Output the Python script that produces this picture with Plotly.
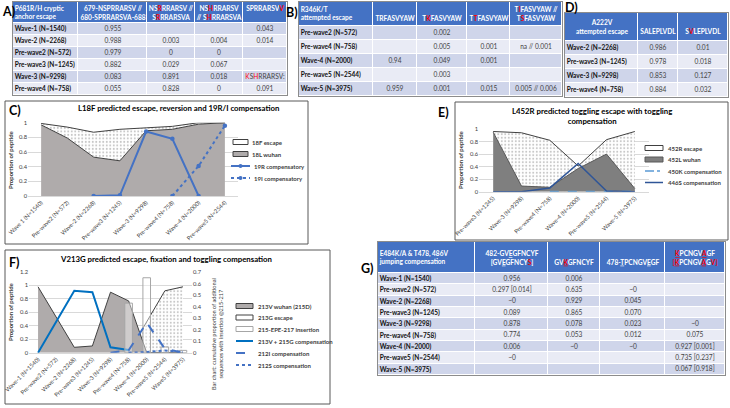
import plotly.graph_objects as go

W, H = 730, 408
FONT = "Lato, 'Noto Sans', 'DejaVu Sans', sans-serif"
RED = "#FF0000"


def red(s):
    return f"<span style='color:{RED}'>{s}</span>"


def redu(s):
    return f"<span style='color:{RED}'><u>{s}</u></span>"


# ---------------- Table A data ----------------
a_title = "P681R/H cryptic<br>anchor escape"
a_headers = ["679-NSPRRARSV //<br>680-SPRRARSVA-688",
             "NS" + red("R") + "RRARSV //<br>S" + red("R") + "RRARSVA",
             "NS" + red("H") + "RRARSV<br>// S" + red("H") + "RRARSVA",
             "SPRRARSV" + red("V") + "<br> "]
a_rows = ["Wave-1 (N=1540)", "Wave-2 (N=2268)", "Pre-wave2 (N=572)",
          "Pre-wave3 (N=1245)", "Wave-3 (N=9298)", "Pre-wave4 (N=758)"]
a_679 = ["0.955", "0.988", "0.979", "0.882", "0.083", "0.055"]
a_nsr = ["", "0.003", "0", "0.029", "0.891", "0.828"]
a_nsh = ["", "0.004", "0", "0.067", "0.018", "0"]
a_spv = ["0.043", "0.014", "", "", red("K") + "S" + red("H") + "RRARSV:", "0.091"]

# ---------------- Table B data ----------------
b_title = "R346K/T<br>attempted escape"
b_headers = ["<br>TRFASVYAW", "<br>T" + red("K") + "FASVYAW", "<br>T" + red("T") + "FASVYAW",
             "T" + red("I") + "FASVYAW //<br>T" + red("S") + "FASVYAW"]
b_rows = ["Pre-wave2 (N=572)", "Pre-wave4 (N=758)", "Wave-4 (N=2000)",
          "Pre-wave5 (N=2544)", "Wave-5 (N=3975)"]
b_trf = ["", "", "0.94", "", "0.959"]
b_tkf = ["0.002", "0.005", "0.049", "0.003", "0.001"]
b_ttf = ["", "0.001", "0.001", "", "0.015"]
b_tif = ["", "na // 0.001", "", "", "0.005 // 0.006"]

# ---------------- Table D data ----------------
d_title = "A222V<br>attempted escape"
d_headers = ["<br>SALEPLVDL", "<br>S" + red("V") + "LEPLVDL"]
d_rows = ["Wave-2 (N=2268)", "Pre-wave3 (N=1245)", "Wave-3 (N=9298)", "Pre-wave4 (N=758)"]
d_sale = ["0.986", "0.978", "0.853", "0.884"]
d_svle = ["0.01", "0.018", "0.127", "0.032"]

# ---------------- Table G data ----------------
g_title = "E484K/A &amp; T478, 486V<br>jumping compensation"
g_headers = ["482-GV<u>E</u>GFNCYF<br>[GV<u>E</u>GFNCY" + red("S") + "]",
             "<br>GV" + redu("K") + "GFNCYF",
             "<br>478-<u>T</u>PCNGV<u>E</u>GF",
             redu("K") + "PCNGV" + redu("A") + "GF<br>" + red("[") + redu("K") + "PCNGV" + redu("A") + "G" + red("V]")]
g_rows = ["Wave-1 (N=1540)", "Pre-wave2 (N=572)", "Wave-2 (N=2268)", "Pre-wave3 (N=1245)",
          "Wave-3 (N=9298)", "Pre-wave4 (N=758)", "Wave-4 (N=2000)", "Pre-wave5 (N=2544)",
          "Wave-5 (N=3975)"]
g_482 = ["0.956", "0.297 [0.014]", "~0", "0.089", "0.878", "0.774", "0.006", "~0", ""]
g_gvk = ["0.006", "0.635", "0.929", "0.865", "0.078", "0.053", "~0", "", ""]
g_478 = ["", "~0", "0.045", "0.070", "0.023", "0.012", "~0", "", ""]
g_kpc = ["", "", "", "", "~0", "0.075", "0.927 [0.001]", "0.735 [0.237]", "0.067 [0.918]"]

# ---------------- Chart C data ----------------
c_cats = ["Wave 1 (N=1540)", "Pre-wave2 (N=572)", "Wave-2 (N=2268)", "Pre-wave3 (N=1245)",
          "Wave-3 (N=9298)", "Pre-wave4 (N=758)", "Wave-4 (N=2000)", "Pre-wave5 (N=2544)"]
c_18L = [0.97, 0.79, 0.53, 0.48, 0.89, 0.91, 0.98, 1.0]
c_18F = [0.02, 0.15, 0.34, 0.43, 0.04, 0.04, 0.02, 0.0]
c_19R = [None, None, 0.0, 0.01, 0.88, 0.78, 0.0, None]
c_19I = [None, None, None, None, None, 0.0, 0.41, 0.96]

# ---------------- Chart E data ----------------
e_cats = ["Pre-wave3 (N=1245)", "Wave-3 (N=9298)", "Pre-wave4 (N=758)", "Wave-4 (N=2000)",
          "Pre-wave5 (N=2544)", "Wave-5 (N=3975)"]
e_452R = [0.96, 0.94, 0.82, 0.41, 0.83, 0.96]
e_452L = [0.95, 0.09, 0.07, 0.37, 0.60, 0.05]
e_450K = [None, None, 0.005, 0.005, 0.005, 0.005]
e_446S = [0.0, 0.0, 0.06, 0.45, 0.01, 0.0]

# ---------------- Chart F data ----------------
f_cats = ["Wave-1 (N=1540)", "Pre-wave2 (N=572)", "Wave-2 (N=2268)", "Pre-wave3 (N=1245)",
          "Wave-3 (N=9298)", "Pre-wave4 (N=758)", "Wave-4 (N=2000)", "Pre-wave5 (N=2544)",
          "Wave5 (N=3975)"]
f_213V = [0.98, 0.52, 0.08, 0.10, 0.90, 0.77, 0.0, 0.0, 0.0]
f_213G = [None, None, None, None, None, 0.0, 0.45, 0.92, 0.98]
f_ins = [None, None, None, None, None, 0.43, 0.65, 0.05, 0.02]          # right axis
f_213V215G = [0.0, 0.47, 0.92, 0.90, 0.08, 0.04, None, None, None]
f_212I = [None, None, None, None, 0.0, 0.02, 0.26, 0.035, 0.0]           # right axis
f_212S = [None, None, None, None, None, 0.0, 0.005, 0.02, 0.005]         # right axis


def X(px):
    return px / W


def Y(py):
    return 1 - py / H


fig = go.Figure()
layout_axes = {}
shapes = []
annotations = []

# ================= tables as heatmaps =================
BAND = [[0, "#4472C4"], [0.5, "#CFD5EA"], [1, "#E9EBF5"]]


def add_table(xname, yname, x0, y0, colw, header_h, row_h, title, headers, rows, columns,
              title_in_cell=False):
    ex = [0]
    for w in colw:
        ex.append(ex[-1] + w)
    n = len(rows)
    ey = [0, header_h] + [header_h + row_h * (i + 1) for i in range(n)]
    z = [[0] * len(colw)] + [[1 if i % 2 == 0 else 2] * len(colw) for i in range(n)]
    head = [("<b>" + title + "</b>") if title_in_cell else ""] + ["<b>" + h + "</b>" for h in headers]
    text = [head] + [[""] + [col[i] for col in columns] for i in range(n)]
    fig.add_trace(go.Heatmap(
        x=ex, y=ey, z=z, text=text, texttemplate="%{text}",
        textfont=dict(size=6.6, family=FONT),
        colorscale=BAND, zmin=0, zmax=2, showscale=False, xgap=1, ygap=1,
        hoverinfo="skip", xaxis=xname, yaxis=yname))
    tw, th = ex[-1], ey[-1]
    centers = [(ey[i] + ey[i + 1]) / 2 for i in range(n + 1)]
    ticktext = [("" if title_in_cell else
                 "<span style='color:white'>" + title + "</span>")] + rows
    xk = "xaxis" + xname[1:]
    yk = "yaxis" + yname[1:]
    layout_axes[xk] = dict(domain=[X(x0), X(x0 + tw)], range=[0, tw], anchor=yname,
                           showgrid=False, zeroline=False, showticklabels=False, ticks="",
                           showline=True, mirror=True, linecolor="#8c8c8c", linewidth=1,
                           fixedrange=True)
    layout_axes[yk] = dict(domain=[Y(y0 + th), Y(y0)], range=[th, 0], anchor=xname,
                           showgrid=False, zeroline=False, ticks="",
                           tickmode="array", tickvals=centers, ticktext=ticktext,
                           ticklabelposition="inside",
                           tickfont=dict(size=6.5, family=FONT, color="#111", weight="bold"),
                           showline=True, mirror=True, linecolor="#8c8c8c", linewidth=1,
                           fixedrange=True)


add_table("x4", "y5", 13, 2, [65, 69, 48, 48, 44], 21, 12, a_title, a_headers, a_rows,
          [a_679, a_nsr, a_nsh, a_spv])
add_table("x5", "y6", 299, 2, [74, 44, 50, 43, 52], 24, 14, b_title, b_headers, b_rows,
          [b_trf, b_tkf, b_ttf, b_tif])
add_table("x6", "y7", 565, 13, [73, 40, 50], 28, 14, d_title, d_headers, d_rows,
          [d_sale, d_svle], title_in_cell=True)
add_table("x7", "y8", 378, 242, [97, 73, 52, 65, 60], 31, 11.33, g_title, g_headers, g_rows,
          [g_482, g_gvk, g_478, g_kpc])

# ================= chart C =================
DOTS = dict(shape=".", fgcolor="#8c8c8c", bgcolor="white", size=3.5, solidity=0.25)
fig.add_trace(go.Scatter(x=c_cats, y=c_18L, stackgroup="c", mode="lines",
                         line=dict(color="#404040", width=1), fillcolor="#AFABAB",
                         xaxis="x", yaxis="y", hoverinfo="skip"))
fig.add_trace(go.Scatter(x=c_cats, y=c_18F, stackgroup="c", mode="lines",
                         line=dict(color="#404040", width=1), fillcolor="white",
                         fillpattern=DOTS, xaxis="x", yaxis="y", hoverinfo="skip"))
fig.add_trace(go.Scatter(x=c_cats, y=c_19R, mode="lines+markers",
                         line=dict(color="#4472C4", width=2), marker=dict(size=4.5, color="#4472C4"),
                         xaxis="x", yaxis="y", hoverinfo="skip"))
fig.add_trace(go.Scatter(x=c_cats, y=c_19I, mode="lines+markers",
                         line=dict(color="#4472C4", width=2, dash="dot"),
                         marker=dict(size=4.5, color="#4472C4"),
                         xaxis="x", yaxis="y", hoverinfo="skip"))

# ================= chart E =================
fig.add_trace(go.Scatter(x=e_cats, y=e_452R, mode="lines", fill="tozeroy",
                         line=dict(color="#404040", width=1), fillcolor="white", fillpattern=DOTS,
                         xaxis="x2", yaxis="y2", hoverinfo="skip"))
fig.add_trace(go.Scatter(x=e_cats, y=e_452L, mode="lines", fill="tozeroy",
                         line=dict(color="#595959", width=1), fillcolor="#7F7F7F",
                         xaxis="x2", yaxis="y2", hoverinfo="skip"))
fig.add_trace(go.Scatter(x=e_cats, y=e_450K, mode="lines",
                         line=dict(color="#5B9BD5", width=1.5, dash="dash"),
                         xaxis="x2", yaxis="y2", hoverinfo="skip"))
fig.add_trace(go.Scatter(x=e_cats, y=e_446S, mode="lines",
                         line=dict(color="#2F5597", width=1.5),
                         xaxis="x2", yaxis="y2", hoverinfo="skip"))

# ================= chart F =================
fig.add_trace(go.Scatter(x=f_cats, y=f_213G, mode="lines", fill="tozeroy",
                         line=dict(color="#404040", width=1), fillcolor="white", fillpattern=DOTS,
                         xaxis="x3", yaxis="y3", hoverinfo="skip"))
fig.add_trace(go.Scatter(x=f_cats, y=f_213V, mode="lines", fill="tozeroy",
                         line=dict(color="#404040", width=1), fillcolor="#AFABAB",
                         xaxis="x3", yaxis="y3", hoverinfo="skip"))
fig.add_trace(go.Scatter(x=f_cats, y=f_213V215G, mode="lines",
                         line=dict(color="#0070C0", width=2),
                         xaxis="x3", yaxis="y3", hoverinfo="skip"))
fig.add_trace(go.Bar(x=f_cats, y=f_ins, width=0.42,
                     marker=dict(color="rgba(255,255,255,0.4)", line=dict(color="#A6A6A6", width=1)),
                     xaxis="x3", yaxis="y4", hoverinfo="skip"))
fig.add_trace(go.Scatter(x=f_cats, y=f_212I, mode="lines",
                         line=dict(color="#4472C4", width=2, dash="dash"),
                         xaxis="x3", yaxis="y4", hoverinfo="skip"))
fig.add_trace(go.Scatter(x=f_cats, y=f_212S, mode="lines",
                         line=dict(color="#4472C4", width=2, dash="dot"),
                         xaxis="x3", yaxis="y4", hoverinfo="skip"))

TICKF = dict(size=5.8, family=FONT, color="#404040")
GRID = "#D9D9D9"


def xcat(dom, yname, n):
    return dict(domain=dom, anchor=yname, type="category", range=[-0.5, n - 0.5],
                tickangle=-45, tickfont=TICKF, showline=True, linecolor=GRID,
                showgrid=False, ticks="", automargin=False, fixedrange=True)


def yval(dom, xname, rng, dt):
    return dict(domain=dom, anchor=xname, range=rng, dtick=dt, tickfont=TICKF,
                gridcolor=GRID, gridwidth=0.8, zeroline=False, showline=False, ticks="",
                automargin=False, fixedrange=True)


layout_axes["xaxis"] = xcat([X(28), X(238)], "y", len(c_cats))
layout_axes["yaxis"] = yval([Y(196), Y(122.7)], "x", [0, 1], 0.2)
layout_axes["xaxis2"] = xcat([X(479), X(649)], "y2", len(e_cats))
layout_axes["yaxis2"] = yval([Y(191.7), Y(129)], "x2", [0, 1], 0.2)
layout_axes["xaxis3"] = xcat([X(29), X(192)], "y3", len(f_cats))
layout_axes["yaxis3"] = yval([Y(352.7), Y(272)], "x3", [0, 1.2], 0.2)
layout_axes["yaxis4"] = dict(overlaying="y3", side="right", anchor="x3", range=[0, 0.7], dtick=0.1,
                             tickfont=TICKF, showgrid=False, zeroline=False, ticks="",
                             automargin=False, fixedrange=True)

# ================= frames, labels, titles =================
for (x0, y0, x1, y1) in [(5, 101, 308, 244), (455, 102, 728, 240), (5, 250, 330, 404)]:
    shapes.append(dict(type="rect", xref="paper", yref="paper", x0=X(x0), x1=X(x1),
                       y0=Y(y1), y1=Y(y0), line=dict(color="#595959", width=1), layer="below"))


def ann(px, py, text, size, bold=False, color="#000", xanchor="center", angle=0):
    annotations.append(dict(xref="paper", yref="paper", x=X(px), y=Y(py), text=text,
                            showarrow=False, xanchor=xanchor, yanchor="middle",
                            textangle=angle,
                            font=dict(size=size, family=FONT, color=color,
                                      weight="bold" if bold else "normal")))


for lab, px, py in [("A)", 8, 11), ("B)", 292, 12), ("D)", 571, 7), ("C)", 15, 111),
                    ("E)", 443, 112), ("F)", 14, 262), ("G)", 367, 268)]:
    ann(px, py, lab, 12.5, bold=True)

ann(178, 108, "L18F predicted escape, reversion and 19R/I compensation", 7.8, bold=True)
ann(592, 116, "L452R predicted toggling escape with toggling<br>compensation", 7.8, bold=True)
ann(166, 259, "V213G predicted escape, fixation and toggling compensation", 7.8, bold=True)

ann(11, 160, "Proportion of peptide", 6, bold=True, color="#404040", angle=-90)
ann(461, 160, "Proportion of peptide", 6, bold=True, color="#404040", angle=-90)
ann(10, 312, "Proportion of peptide", 6, bold=True, color="#404040", angle=-90)
ann(217, 334, "Bar chart: cumulative proportion of additional<br>sequences with insertion @215-217",
    5.6, color="#404040", angle=-90)


# ================= legends =================
def leg_rect(x0, yc, w, fill, line):
    shapes.append(dict(type="rect", xref="paper", yref="paper", x0=X(x0), x1=X(x0 + w),
                       y0=Y(yc + 2.5), y1=Y(yc - 2.5), fillcolor=fill,
                       line=dict(color=line, width=1)))


def leg_line(x0, w, yc, color, width, dash="solid"):
    shapes.append(dict(type="line", xref="paper", yref="paper", x0=X(x0), x1=X(x0 + w),
                       y0=Y(yc), y1=Y(yc), line=dict(color=color, width=width, dash=dash)))


def leg_dot(xc, yc, color):
    shapes.append(dict(type="circle", xref="paper", yref="paper", x0=X(xc - 2), x1=X(xc + 2),
                       y0=Y(yc + 2), y1=Y(yc - 2), fillcolor=color, line=dict(color=color, width=0)))


def leg_text(px, py, text):
    ann(px, py, text, 6, bold=True, color="#404040", xanchor="left")


# C legend
cy = [142, 154, 166, 178]
leg_rect(233, cy[0], 15, "white", "#404040"); leg_text(250, cy[0], "18F escape")
leg_rect(233, cy[1], 15, "#AFABAB", "#404040"); leg_text(250, cy[1], "18L wuhan")
leg_line(231, 19, cy[2], "#4472C4", 2); leg_dot(240.5, cy[2], "#4472C4"); leg_text(252, cy[2], "19R compensatory")
leg_line(231, 19, cy[3], "#4472C4", 2, "dot"); leg_dot(240.5, cy[3], "#4472C4"); leg_text(252, cy[3], "19I compensatory")

# E legend
ey_ = [148, 159.5, 171, 182.5]
leg_rect(645, ey_[0], 18, "white", "#404040"); leg_text(666, ey_[0], "452R escape")
leg_rect(645, ey_[1], 18, "#7F7F7F", "#595959"); leg_text(666, ey_[1], "452L wuhan")
leg_line(645, 18, ey_[2], "#5B9BD5", 1.5, "dashdot"); leg_text(666, ey_[2], "450K compensation")
leg_line(645, 18, ey_[3], "#2F5597", 1.5); leg_text(666, ey_[3], "446S compensation")

# F legend
fy = [306, 317.5, 329, 341, 353, 365]
leg_rect(236, fy[0], 17, "#AFABAB", "#404040"); leg_text(256, fy[0], "213V wuhan (215D)")
leg_rect(236, fy[1], 17, "white", "#404040"); leg_text(256, fy[1], "213G escape")
leg_rect(236, fy[2], 17, "white", "#A6A6A6"); leg_text(256, fy[2], "215-EPE-217 insertion")
leg_line(236, 17, fy[3], "#0070C0", 2); leg_text(256, fy[3], "213V + 215G compensation")
leg_line(236, 17, fy[4], "#4472C4", 2, "dash"); leg_text(256, fy[4], "212I compensation")
leg_line(236, 17, fy[5], "#4472C4", 2, "dot"); leg_text(256, fy[5], "212S compensation")

fig.update_layout(width=W, height=H, autosize=False, margin=dict(l=0, r=0, t=0, b=0),
                  paper_bgcolor="white", plot_bgcolor="white", showlegend=False,
                  font=dict(family=FONT), shapes=shapes, annotations=annotations,
                  **layout_axes)

fig.write_html("out.html")
